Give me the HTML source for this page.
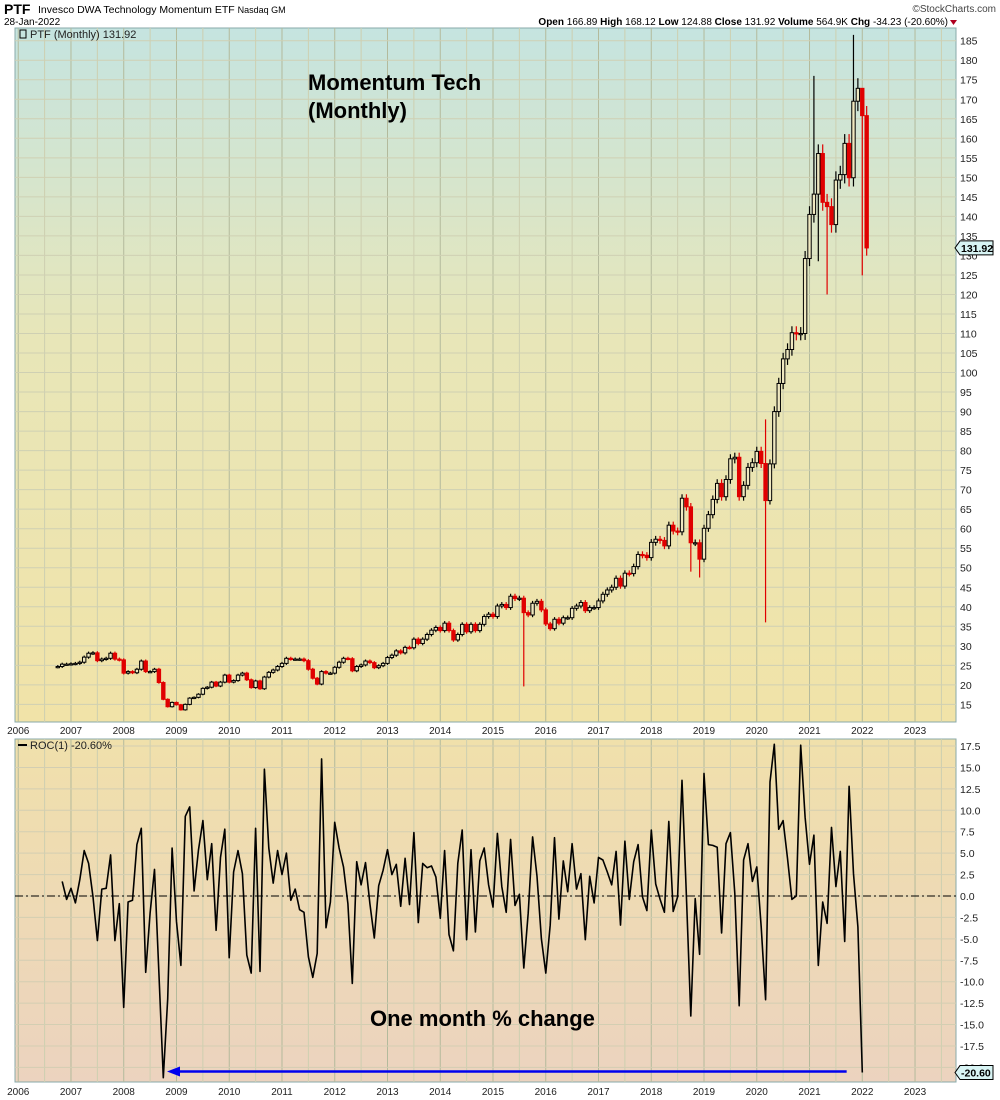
<!DOCTYPE html>
<html><head><meta charset="utf-8"><style>
body{margin:0;background:#fff;font-family:"Liberation Sans",sans-serif;}
svg{display:block}
</style></head><body>
<svg id="chart" width="1000" height="1100" viewBox="0 0 1000 1100" xmlns="http://www.w3.org/2000/svg" font-family="Liberation Sans, sans-serif">
<defs>
<linearGradient id="gMain" x1="0" y1="0" x2="0" y2="1">
<stop offset="0" stop-color="#c5e4e0"/><stop offset="0.45" stop-color="#e8e6b8"/><stop offset="1" stop-color="#f1e3a8"/></linearGradient>
<linearGradient id="gRoc" x1="0" y1="0" x2="0" y2="1">
<stop offset="0" stop-color="#f0e0ab"/><stop offset="1" stop-color="#ecd3bf"/></linearGradient>
</defs>
<text x="4" y="14" font-size="14" font-weight="bold">PTF</text>
<text x="38" y="13" font-size="10.5">Invesco DWA Technology Momentum ETF <tspan font-size="9">Nasdaq GM</tspan></text>
<text x="4" y="25" font-size="10">28-Jan-2022</text>
<text x="996" y="12" font-size="10" text-anchor="end" fill="#444">©StockCharts.com</text>
<text x="948" y="25" font-size="10" text-anchor="end"><tspan font-weight="bold">Open</tspan> 166.89 <tspan font-weight="bold">High</tspan> 168.12 <tspan font-weight="bold">Low</tspan> 124.88 <tspan font-weight="bold">Close</tspan> 131.92 <tspan font-weight="bold">Volume</tspan> 564.9K <tspan font-weight="bold">Chg</tspan> -34.23 (-20.60%)</text>
<polygon points="950,20 957,20 953.5,25" fill="#b00020"/>
<rect x="15" y="28" width="941" height="694" fill="url(#gMain)" stroke="#8aa" stroke-width="1"/>
<rect x="15" y="739" width="941" height="343" fill="url(#gRoc)" stroke="#8aa" stroke-width="1"/>
<g id="grid"></g>
<g id="marks"></g>
<text x="30" y="38" font-size="11" fill="#222">PTF (Monthly) 131.92</text>
<rect x="20" y="30" width="6" height="8" fill="none" stroke="#000"/>
<text x="30" y="749" font-size="11" fill="#222">ROC(1) -20.60%</text>
<line x1="18" y1="745" x2="27" y2="745" stroke="#000" stroke-width="2"/>
<text x="308" y="90" font-size="22" font-weight="bold">Momentum Tech</text>
<text x="308" y="118" font-size="22" font-weight="bold">(Monthly)</text>
<text x="370" y="1026" font-size="22" font-weight="bold">One month % change</text>
</svg>
<script>
const years=[2006,2007,2008,2009,2010,2011,2012,2013,2014,2015,2016,2017,2018,2019,2020,2021,2022,2023];
const priceTicks=[15,20,25,30,35,40,45,50,55,60,65,70,75,80,85,90,95,100,105,110,115,120,125,130,135,140,145,150,155,160,165,170,175,180,185];
const rocTicks=[17.5,15,12.5,10,7.5,5,2.5,0,-2.5,-5,-7.5,-10,-12.5,-15,-17.5,-20];
// monthly closes Oct 2006 .. Jan 2022
const closes=[24.7,25.3,25.3,25.4,25.5,25.8,27.1,28.1,28.2,26.2,26.6,26.8,28.1,26.6,26.4,23.0,23.4,23.1,24.0,26.1,23.4,23.4,24.0,20.6,16.3,14.4,15.5,14.9,13.6,15.0,16.6,16.8,17.6,19.1,19.4,20.7,19.7,20.7,22.5,20.7,21.1,22.5,23.0,21.3,19.3,21.0,19.0,22.0,23.2,23.8,24.7,25.5,26.8,26.6,26.6,26.6,26.2,24.0,21.7,20.2,23.4,23.0,23.0,24.5,25.8,26.8,26.7,23.6,24.7,25.1,26.1,25.7,24.4,24.9,25.5,27.0,27.6,28.7,28.2,29.6,29.5,31.7,30.6,31.7,32.9,34.0,34.7,33.9,35.8,33.9,31.5,32.9,35.5,33.6,35.5,33.9,35.5,37.5,38.1,37.5,40.2,40.6,39.8,42.7,42.1,42.2,38.5,37.9,40.9,41.4,39.2,35.6,34.4,36.8,35.8,37.2,37.2,39.6,40.2,41.1,39.0,39.8,39.8,41.5,43.2,44.3,45.0,47.3,45.3,48.6,48.5,50.3,53.4,53.2,52.6,56.5,57.3,57.0,55.6,60.9,59.4,59.2,67.8,65.6,56.4,56.4,52.2,60.1,63.6,67.5,71.6,68.2,72.6,77.9,78.3,68.2,71.1,75.7,76.9,79.8,76.7,67.2,76.6,90.0,97.2,103.5,105.9,110.2,109.9,110.0,129.2,140.5,145.7,156.1,143.6,142.5,137.9,149.3,150.7,158.7,149.9,169.5,172.8,165.8,131.92];
const firstOpen=24.6;
const lowOverrideIdx=[106,161,146,183,175,173,144];
const lowOverrideVal=[19.6,36.0,47.5,124.88,120.0,128.5,49.0];
const highOverrideIdx=[181,172,183,161];
const highOverrideVal=[186.5,176.0,168.12,88.0];
// ROC(1) monthly % change, Nov 2006 .. Jan 2022
const roc=[1.7,-0.4,0.9,-0.8,1.9,5.3,3.8,-0.1,-5.2,0.8,0.9,4.8,-5.2,-0.9,-13,-0.7,-0.5,6,7.9,-8.9,-2,3.1,-9,-21.2,-12,5.6,-3,-8.1,9.3,10.4,0.6,5.4,8.8,1.9,6.1,-4,4.5,7.8,-7.2,2.8,5.3,2.6,-6.9,-9,7.9,-8.8,14.8,5.6,1.5,5.3,2.5,5,-0.5,0.8,-1.6,-1.9,-7.1,-9.5,-6.7,16,-3.7,-0.7,8.6,5.6,3.4,-0.9,-10.2,4,1.3,3.9,-0.9,-4.9,1.2,3,5.4,2.5,3.7,-1.2,4.4,-1,7.4,-3.1,3.8,3.3,3.5,2.2,-2.6,5.3,-4.5,-6.4,3.8,7.7,-5.1,5.4,-4.2,4.1,5.6,1.3,-1.3,7.3,1.1,-1.9,6.6,-1.1,0.2,-8.4,-2,6.9,2.3,-5,-9,-3.4,6.8,-2.7,4.1,0.5,6.1,0.8,2.6,-5.1,2.3,-0.8,4.5,4.2,2.8,1.3,5.2,-3.4,6.4,-0.4,4,6,-0.1,-1.7,7.7,1.4,-0.4,-1.9,8.7,-1.8,-0.1,13.5,0,-14,-0.3,-6.8,14.3,6,5.9,5.7,-4.3,6.1,7.4,0.3,-12.8,4.2,6.1,1.7,3.4,-3.6,-12.1,13.3,17.7,7.8,8.8,4.4,-0.4,0,17.6,9.2,3.7,7.1,-8.1,-0.7,-3.2,8,1.1,5.2,-5.3,12.8,2.6,-3.6,-20.6];

const NS="http://www.w3.org/2000/svg";
const L=15,R=956,PT=28,PB=722,RT=739,RB=1082;
const x0=57.8, dx=4.396; // Oct 2006 position, px per month
const xIdx=i=>x0+i*dx;
const xYear=y=>x0+((y-2006)*12-9)*dx;
const yP=v=>40.7+(185-v)*3.904;
const yR=v=>896-v*8.57;
function mk(tag,attrs,parent){const e=document.createElementNS(NS,tag);for(const k in attrs)e.setAttribute(k,attrs[k]);parent.appendChild(e);return e;}
const grid=document.getElementById('grid'), marks=document.getElementById('marks');
for(const y of years){
  for(const h of [0,6]){
    const x=xIdx((y-2006)*12-9+h);
    if(x<=L||x>=R)continue;
    const c=h===0?'#b3ba9c':'#cdcfb0';
    const g1=mk('line',{x1:x,y1:PT,x2:x,y2:PB,stroke:c,'stroke-width':1},grid);
    
    
    const g2=mk('line',{x1:x,y1:RT,x2:x,y2:RB,stroke:c,'stroke-width':1},grid);
    
    
  }
  const xl=xYear(y);
  for(const ty of [734,1095]){
    const t=mk('text',{x:xl,y:ty,'font-size':10,'text-anchor':'middle',fill:'#222'},grid);
    t.textContent=y;
    
    
  }
}
for(const v of priceTicks){
  const y=yP(v);
  const g=mk('line',{x1:L,y1:y,x2:R,y2:y,stroke:'#cfd0b3','stroke-width':1},grid);
  
  
  const t=mk('text',{x:960,y:y+4,'font-size':10.5,fill:'#222'},grid);
  t.textContent=v;
  
  
}
for(const v of rocTicks){
  const y=yR(v);
  const g=mk('line',{x1:L,y1:y,x2:R,y2:y,stroke:'#d3ceb2','stroke-width':1},grid);
  
  
  const t=mk('text',{x:960,y:y+4,'font-size':10.5,fill:'#222'},grid);
  t.textContent=v.toFixed(1);
  
  
}
const zl=mk('line',{x1:L,y1:yR(0),x2:R,y2:yR(0),stroke:'#000','stroke-width':1,'stroke-dasharray':'8,3,2,3'},grid);


for(let i=0;i<closes.length;i++){
  const c=closes[i], o=i===0?firstOpen:closes[i-1];
  let hi=Math.max(o,c)*1.015, lo=Math.min(o,c)*0.985;
  const li=lowOverrideIdx.indexOf(i); if(li>=0)lo=lowOverrideVal[li];
  const hiI=highOverrideIdx.indexOf(i); if(hiI>=0)hi=highOverrideVal[hiI];
  const down=c<o, col=down?'#e00000':'#000', x=xIdx(i);
  const w=mk('line',{x1:x,y1:yP(hi),x2:x,y2:yP(lo),stroke:col,'stroke-width':1.2},marks);
  
  
  const top=yP(Math.max(o,c)), h=Math.max(1.2,yP(Math.min(o,c))-top);
  const b=mk('rect',{x:x-1.7,y:top,width:3.4,height:h,fill:down?col:'#efe8c0',stroke:col,'stroke-width':1},marks);
  
  
}
let d='';
for(let i=0;i<roc.length;i++){d+=(i?'L':'M')+xIdx(i+1).toFixed(1)+','+yR(roc[i]).toFixed(1);}
const rl=mk('path',{d:d,fill:'none',stroke:'#000','stroke-width':1.6,'stroke-linejoin':'round'},marks);


const lastX=xIdx(closes.length-1)-20, yA=yR(roc[roc.length-1])-1;
const arr=mk('line',{x1:lastX,y1:yA,x2:180,y2:yA,stroke:'#0000ee','stroke-width':2.5},marks);


const ah=mk('polygon',{points:`167,${yA} 180,${yA-5} 180,${yA+5}`,fill:'#0000ee'},marks);


function tag(y,txt,name){
  const p=mk('polygon',{points:`955,${y} 960,${y-7} 993,${y-7} 993,${y+7} 960,${y+7}`,fill:'#d8f4f4',stroke:'#000','stroke-width':1},marks);
  
  
  const t=mk('text',{x:961,y:y+4,'font-size':10.5,'font-weight':'bold'},marks);
  t.textContent=txt;
  
  
}
tag(yP(closes[closes.length-1]),closes[closes.length-1].toFixed(2),'last-price-tag');
tag(yR(roc[roc.length-1]),roc[roc.length-1].toFixed(2),'last-roc-tag');
</script>
</body></html>
